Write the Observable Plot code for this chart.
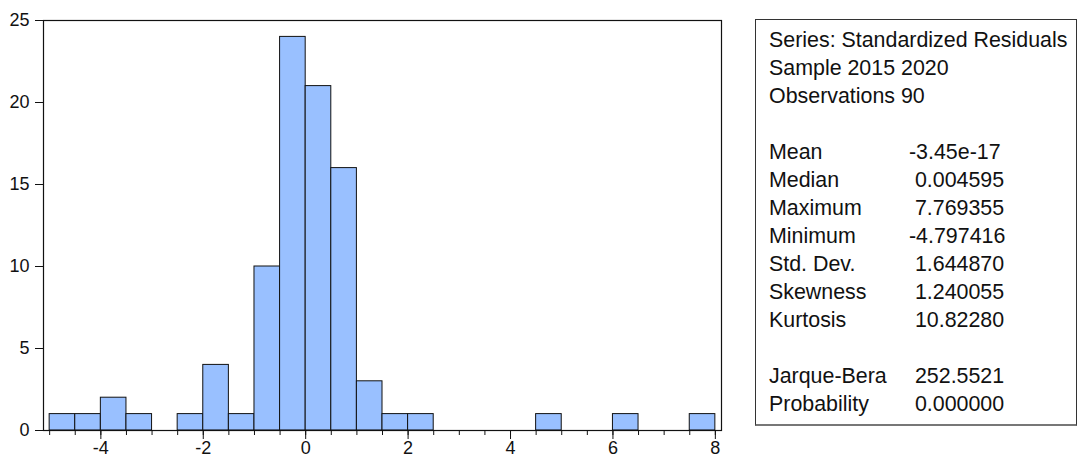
<!DOCTYPE html>
<html>
<head>
<meta charset="utf-8">
<script src="https://cdn.jsdelivr.net/npm/d3@7"></script>
<script src="https://cdn.jsdelivr.net/npm/@observablehq/plot@0.6"></script>
<style>
  html, body { margin: 0; padding: 0; background: #fff; }
  #wrap { position: relative; width: 1077px; height: 459px; overflow: hidden; }
  #stats {
    position: absolute; left: 755px; top: 19px; width: 322px; height: 407px;
    box-sizing: border-box; border: 1px solid #333; border-bottom: 2px solid #777;
    font-family: Arial, "Liberation Sans", sans-serif; font-size: 21.4px; color: #111;
    padding-top: 6px;
  }
  .row { position: relative; height: 28px; line-height: 28px; white-space: pre; }
  .row .lab { position: absolute; left: 13px; }
  .row .val { position: absolute; left: 153px; }
</style>
</head>
<body>
<div id="wrap"></div>
<script>
// ---- data ----
const binLeft = [-5, -4.5, -4, -3.5, -3, -2.5, -2, -1.5, -1, -0.5, 0, 0.5, 1, 1.5, 2, 2.5, 3, 3.5, 4, 4.5, 5, 5.5, 6, 6.5, 7, 7.5];
const binRight = [-4.5, -4, -3.5, -3, -2.5, -2, -1.5, -1, -0.5, 0, 0.5, 1, 1.5, 2, 2.5, 3, 3.5, 4, 4.5, 5, 5.5, 6, 6.5, 7, 7.5, 8];
const counts = [1, 1, 2, 1, 0, 1, 4, 1, 10, 24, 21, 16, 3, 1, 1, 0, 0, 0, 0, 1, 0, 0, 1, 0, 0, 1];
const minorTicks = [-5, -4.5, -4, -3.5, -3, -2.5, -2, -1.5, -1, -0.5, 0, 0.5, 1, 1.5, 2, 2.5, 3, 3.5, 4, 4.5, 5, 5.5, 6, 6.5, 7, 7.5, 8];
const majorTicks = [-4, -2, 0, 2, 4, 6, 8];
const yTicks = [0, 5, 10, 15, 20, 25];

const headerLines = ["Series: Standardized Residuals", "Sample 2015 2020", "Observations 90"];
const statLabels = ["Mean", "Median", "Maximum", "Minimum", "Std. Dev.", "Skewness", "Kurtosis"];
const statValues = ["-3.45e-17", " 0.004595", " 7.769355", "-4.797416", " 1.644870", " 1.240055", " 10.82280"];
const testLabels = ["Jarque-Bera", "Probability"];
const testValues = [" 252.5521", " 0.000000"];

// ---- chart ----
const bars = binLeft.map((x1, i) => ({x1, x2: binRight[i], count: counts[i]})).filter(d => d.count > 0);
const fmt = d => String(d);

const chart = Plot.plot({
  width: 1077,
  height: 459,
  marginLeft: 43,
  marginRight: 356,
  marginTop: 20,
  marginBottom: 29,
  x: {domain: [-5.12, 8.12], label: null},
  y: {domain: [0, 25], label: null},
  style: {fontFamily: 'Arial, "Liberation Sans", sans-serif', fontSize: "18px", color: "#111", background: "transparent", overflow: "visible"},
  marks: [
    Plot.rectY(bars, {x1: "x1", x2: "x2", y: "count", fill: "#99c0ff", stroke: "#111", strokeWidth: 1, inset: 0}),
    Plot.frame({stroke: "#111", strokeWidth: 1.2}),
    Plot.axisY({ticks: yTicks, tickSize: 8, tickPadding: 6, tickFormat: fmt, label: null, fontSize: 18}),
    Plot.axisX({ticks: minorTicks, tickSize: 5, tickFormat: () => "", label: null}),
    Plot.axisX({ticks: majorTicks, tickSize: 9, tickPadding: 2, tickFormat: fmt, label: null, fontSize: 18})
  ]
});

const wrap = document.getElementById("wrap");
wrap.appendChild(chart);

// ---- stats panel ----
const stats = document.createElement("div");
stats.id = "stats";
function addRow(lab, val) {
  const r = document.createElement("div");
  r.className = "row";
  const a = document.createElement("span"); a.className = "lab"; a.textContent = lab; r.appendChild(a);
  if (val != null) { const b = document.createElement("span"); b.className = "val"; b.textContent = val; r.appendChild(b); }
  stats.appendChild(r);
}
headerLines.forEach(l => addRow(l, null));
addRow("", null);
statLabels.forEach((l, i) => addRow(l, statValues[i]));
addRow("", null);
testLabels.forEach((l, i) => addRow(l, testValues[i]));
wrap.appendChild(stats);
</script>
</body>
</html>
